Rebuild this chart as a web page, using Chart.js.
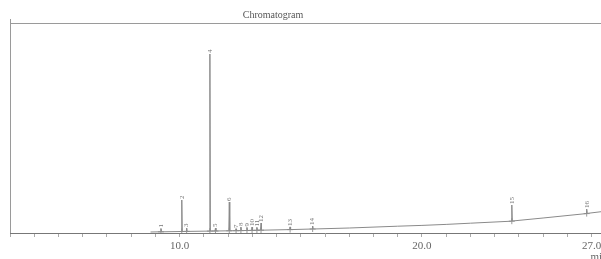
<!DOCTYPE html>
<html>
<head>
<meta charset="utf-8">
<script src="https://cdn.jsdelivr.net/npm/chart.js@4/dist/chart.umd.min.js"></script>
<style>
  html, body { margin: 0; padding: 0; background: #fff; overflow: hidden; width: 601px; height: 259px; }
  #wrap { position: absolute; left: 0; top: 0; width: 650px; height: 259px; }
</style>
</head>
<body>
<div id="wrap"><canvas id="c" width="650" height="259"></canvas></div>
<script>
// ---- data ----
const titleText = 'Chromatogram';
const axisUnit = 'min';
const xTickLabels = [10, 20, 27];

const traceTimes = [
  8.80, 9.20, 9.23, 9.26, 10.07, 10.09, 10.11, 10.27, 10.29, 10.31,
  11.23, 11.25, 11.27, 11.46, 11.48, 11.50, 12.03, 12.05, 12.07,
  12.31, 12.33, 12.35, 12.51, 12.53, 12.55, 12.76, 12.78, 12.80,
  12.97, 12.99, 13.01, 13.17, 13.19, 13.21, 13.34, 13.36, 13.38,
  14.54, 14.56, 14.58, 15.47, 15.49, 15.51, 17.0, 19.0, 20.0, 21.0,
  22.0, 23.69, 23.71, 23.73, 25.0, 26.78, 26.80, 26.82, 27.4, 29.0
];
const traceSignal = [
  1.0, 1.2, 4.5, 1.2, 1.5, 33, 1.5, 1.6, 5, 1.6,
  1.9, 179, 2.0, 2.0, 5, 2.0, 2.2, 31, 2.2,
  2.3, 4, 2.3, 2.4, 6, 2.4, 2.5, 5.5, 2.5,
  2.6, 6, 2.6, 2.7, 5.5, 2.7, 2.8, 10, 2.8,
  3.4, 6, 3.4, 4.0, 7, 4.0, 5.0, 6.8, 7.6, 8.6,
  9.8, 11.8, 28, 12.0, 15.0, 19.4, 24, 19.6, 21.3, 24
];

const peakLabels = ['1','2','3','4','5','6','7','8','9','10','11','12','13','14','15','16'];
const peakTimes  = [9.23, 10.09, 10.29, 11.25, 11.48, 12.05, 12.33, 12.53, 12.78, 12.99, 13.19, 13.36, 14.56, 15.49, 23.71, 26.80];
const peakHeights= [4.5, 33, 5, 179, 5, 31, 4, 6, 5.5, 6, 5.5, 10, 6, 7, 28, 24];
const peakBases  = [1.2, 1.5, 1.6, 1.9, 2.0, 2.2, 2.3, 2.4, 2.5, 2.6, 2.7, 2.8, 3.4, 4.0, 11.8, 19.4];

// ---- build datasets ----
const tracePoints = traceTimes.map((t, i) => ({ x: t, y: traceSignal[i] }));
const markerPoints = peakTimes.map((t, i) => ({ x: t, y: peakBases[i] }));

const SERIF = '"Liberation Serif"';

const decorPlugin = {
  id: 'decor',
  afterDraw(chart) {
    const ctx = chart.ctx;
    const a = chart.chartArea;
    const xs = chart.scales.x, ys = chart.scales.y;
    ctx.save();
    ctx.strokeStyle = '#9a9a9a';
    ctx.lineWidth = 1;
    ctx.beginPath();
    ctx.moveTo(a.left, a.top + 0.5);
    ctx.lineTo(a.right, a.top + 0.5);
    ctx.moveTo(a.left + 0.5, a.top - 4);
    ctx.lineTo(a.left + 0.5, a.bottom);
    ctx.stroke();
    ctx.fillStyle = '#555';
    ctx.font = '10px ' + SERIF;
    ctx.textAlign = 'center';
    ctx.textBaseline = 'middle';
    ctx.fillText(titleText, 273, 15);
    ctx.textAlign = 'left';
    ctx.fillStyle = '#666';
    ctx.font = '11px ' + SERIF;
    ctx.fillText(axisUnit, xs.getPixelForValue(27) - 1, 257);
    ctx.font = '7px ' + SERIF;
    ctx.fillStyle = '#777';
    peakLabels.forEach((lab, i) => {
      const px = xs.getPixelForValue(peakTimes[i]);
      const py = ys.getPixelForValue(peakHeights[i]);
      ctx.save();
      ctx.translate(px, py - 1);
      ctx.rotate(-Math.PI / 2);
      ctx.textAlign = 'left';
      ctx.textBaseline = 'middle';
      ctx.fillText(lab, 0, 0);
      ctx.restore();
    });
    ctx.restore();
  }
};

function draw() {
  new Chart(document.getElementById('c'), {
    type: 'line',
    data: {
      datasets: [
        {
          data: tracePoints,
          borderColor: '#8a8a8a',
          borderWidth: 1,
          pointRadius: 0,
          tension: 0,
          fill: false
        },
        {
          type: 'scatter',
          data: markerPoints,
          pointStyle: 'cross',
          pointRadius: 3,
          borderColor: '#999',
          borderWidth: 1,
          backgroundColor: '#999'
        }
      ]
    },
    options: {
      responsive: false,
      animation: false,
      devicePixelRatio: 1,
      layout: { padding: { left: 10, top: 23, right: 10, bottom: 0 } },
      plugins: {
        legend: { display: false },
        title: { display: false },
        tooltip: { enabled: false }
      },
      scales: {
        x: {
          type: 'linear',
          min: 3,
          max: 29,
          afterFit(axis) { axis.height = 26; },
          border: { display: true, color: '#777', width: 1 },
          grid: { drawOnChartArea: false, drawTicks: true, tickLength: 4, color: '#aaa' },
          ticks: {
            stepSize: 1,
            autoSkip: false,
            maxRotation: 0,
            padding: 3,
            color: '#666',
            font: { family: SERIF, size: 11 },
            callback: (v) => xTickLabels.includes(v) ? v.toFixed(1) : ''
          }
        },
        y: {
          display: false,
          min: 0,
          max: 210
        }
      }
    },
    plugins: [decorPlugin]
  });
}

if (document.fonts && document.fonts.load) {
  Promise.all([
    document.fonts.load('11px "Liberation Serif"'),
    document.fonts.load('7px "Liberation Serif"')
  ]).then(draw, draw);
} else {
  draw();
}
</script>
</body>
</html>
